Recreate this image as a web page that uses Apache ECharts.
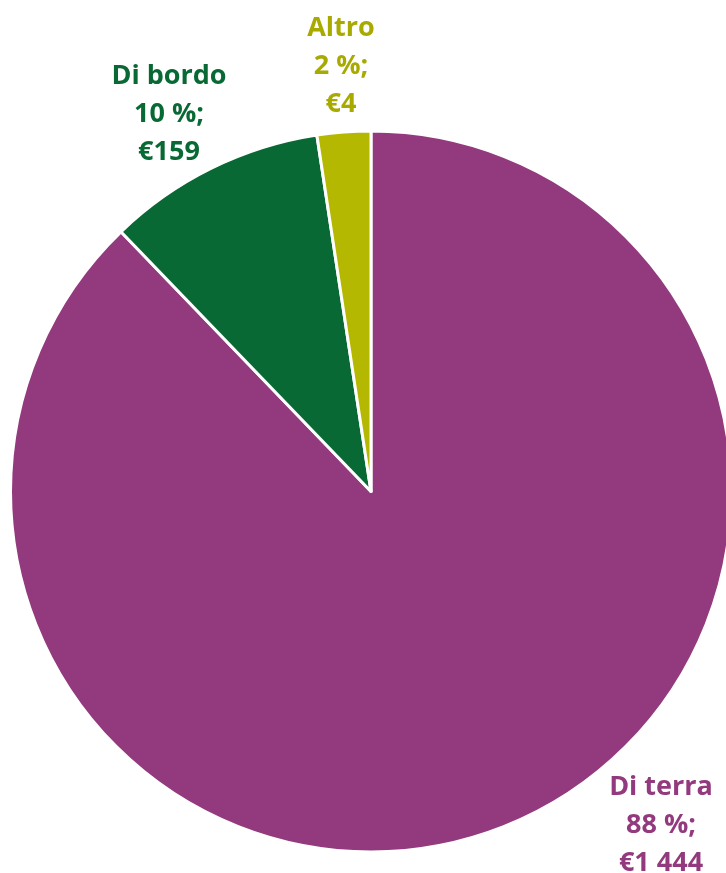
<!DOCTYPE html>
<html>
<head>
<meta charset="utf-8">
<script src="https://cdn.jsdelivr.net/npm/echarts@6/dist/echarts.min.js"></script>
<style>
  html, body { margin: 0; padding: 0; background: #fff; }
  #chart { width: 726px; height: 873px; }
</style>
</head>
<body>
<div id="chart"></div>
<script>
// data
const categories = ['Di terra', 'Di bordo', 'Altro']
const shares = [87.8, 9.8, 2.4]
const pctLabels = ['88 %', '10 %', '2 %']
const amounts = ['€1 444', '€159', '€4']

const sliceColors = ['#923A7D', '#086934', '#B5B800']
const textColors = ['#923A7D', '#086934', '#A8AA00']
// label block centres (x, y)
const labelSpots = [[661, 825], [169, 114], [341, 66]]

let myChart = echarts.init(document.getElementById('chart'))

myChart.setOption({
  animation: false,
  series: [
    {
      type: 'pie',
      center: [371, 491.5],
      radius: [0, 360.5],
      startAngle: 90,
      clockwise: true,
      itemStyle: {
        borderColor: '#fff',
        borderWidth: 3
      },
      label: {
        show: true,
        position: 'outside',
        alignTo: 'none',
        overflow: 'none',
        fontFamily: 'Open Sans',
        fontWeight: 'bold',
        fontSize: 27,
        lineHeight: 38,
        align: 'center',
        verticalAlign: 'middle',
        formatter: (p) => categories[p.dataIndex] + '\n' + pctLabels[p.dataIndex] + ';\n' + amounts[p.dataIndex]
      },
      labelLine: { show: false },
      labelLayout: (params) => ({
        x: labelSpots[params.dataIndex][0],
        y: labelSpots[params.dataIndex][1],
        align: 'center',
        verticalAlign: 'middle'
      }),
      data: categories.map((name, i) => ({
        name: name,
        value: shares[i],
        itemStyle: { color: sliceColors[i] },
        label: { color: textColors[i] }
      }))
    }
  ]
})
</script>
</body>
</html>
